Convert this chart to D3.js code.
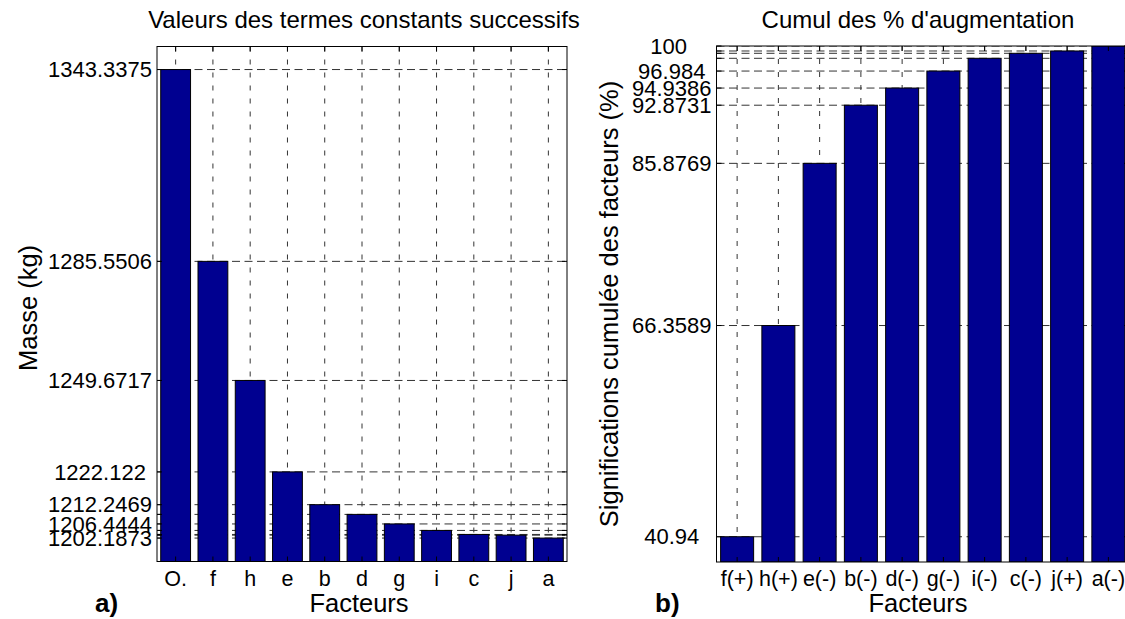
<!DOCTYPE html>
<html><head><meta charset="utf-8">
<script src="https://cdn.jsdelivr.net/npm/d3@7"></script>
<style>body{margin:0;background:#fff} text{font-family:"Liberation Sans",Arial,sans-serif;fill:#000}</style>
</head><body><svg id="c" width="1125" height="619"></svg>
<script>
// Panel a) data
const catsA = ["O.","f","h","e","b","d","g","i","c","j","a"];
const valsA = [1343.3375,1285.5506,1249.6717,1222.122,1212.2469,1209.32,1206.4444,1204.49,1203.28,1203.07,1202.1873];
const tickLabelsA = ["1343.3375","1285.5506","1249.6717","1222.122","1212.2469","1206.4444","1202.1873"];
// Panel b) data
const catsB = ["f(+)","h(+)","e(-)","b(-)","d(-)","g(-)","i(-)","c(-)","j(+)","a(-)"];
const valsB = [40.94,66.3589,85.8769,92.8731,94.9386,96.984,98.52,99.12,99.40,100];
const tickLabelsB = ["40.94","66.3589","85.8769","92.8731","94.9386","96.984","100"];

const svg = d3.select("#c");
const TICK_FS = 22, XTICK_FS = 21.5, TITLE_FS = 24, LAB_FS = 25.5;

function panel(o){
  const g = svg.append("g");
  const x = d3.scaleBand().domain(o.cats).range([o.x0,o.x1]).paddingInner(0.2).paddingOuter(0.1);
  const y = d3.scaleLinear().domain(o.ydom).range([o.y1,o.y0]);
  const clipId = "clip"+o.id;
  svg.append("clipPath").attr("id",clipId).append("rect")
    .attr("x",o.x0).attr("y",o.y0).attr("width",o.x1-o.x0).attr("height",o.y1-o.y0);
  const inner = g.append("g").attr("clip-path",`url(#${clipId})`);
  // grid
  inner.selectAll(".hg").data(o.vals).enter().append("line")
    .attr("x1",o.x0).attr("x2",o.x1).attr("y1",d=>y(d)).attr("y2",d=>y(d))
    .attr("stroke","#333").attr("stroke-width",1).attr("stroke-dasharray","8,4.5");
  inner.selectAll(".vg").data(o.cats).enter().append("line")
    .attr("x1",d=>x(d)+x.bandwidth()/2).attr("x2",d=>x(d)+x.bandwidth()/2)
    .attr("y1",o.y0).attr("y2",o.y1)
    .attr("stroke","#333").attr("stroke-width",1).attr("stroke-dasharray","5,8");
  // bars
  inner.selectAll(".bar").data(o.cats).enter().append("rect")
    .attr("x",d=>x(d)).attr("width",x.bandwidth())
    .attr("y",(d,i)=>y(o.vals[i])).attr("height",(d,i)=>o.y1-y(o.vals[i]))
    .attr("fill","#000090").attr("stroke","#000").attr("stroke-width",1);
  // ticks
  const tk = g.append("g").attr("stroke","#000").attr("stroke-width",1);
  o.vals.forEach(v=>{
    tk.append("line").attr("x1",o.x0).attr("x2",o.x0+5).attr("y1",y(v)).attr("y2",y(v));
    tk.append("line").attr("x1",o.x1-5).attr("x2",o.x1).attr("y1",y(v)).attr("y2",y(v));
  });
  o.cats.forEach(c=>{
    const cx = x(c)+x.bandwidth()/2;
    tk.append("line").attr("x1",cx).attr("x2",cx).attr("y1",o.y1).attr("y2",o.y1-5);
    tk.append("line").attr("x1",cx).attr("x2",cx).attr("y1",o.y0).attr("y2",o.y0+5);
  });
  // box
  g.append("rect").attr("x",o.x0).attr("y",o.y0).attr("width",o.x1-o.x0).attr("height",o.y1-o.y0)
    .attr("fill","none").attr("stroke","#000").attr("stroke-width",1);
  // y tick labels (padded like a char matrix)
  const maxLen = d3.max(o.tickLabels,s=>s.length);
  g.selectAll(".yl").data(o.tickLabels).enter().append("text")
    .attr("x",o.x0-5).attr("y",d=>y(+d)).attr("dy","0.35em")
    .attr("text-anchor","end").style("white-space","pre")
    .attr("font-size",TICK_FS).text(d=>d.padEnd(maxLen," "));
  // x tick labels
  g.selectAll(".xl").data(o.cats).enter().append("text")
    .attr("x",d=>x(d)+x.bandwidth()/2).attr("y",o.y1+24)
    .attr("text-anchor","middle").attr("font-size",XTICK_FS).text(d=>d);
  // title
  g.append("text").attr("x",o.titleX).attr("y",28).attr("text-anchor","middle")
    .attr("font-size",TITLE_FS).text(o.title);
  // x label
  g.append("text").attr("x",o.xlabX).attr("y",612).attr("text-anchor","middle")
    .attr("font-size",LAB_FS).text("Facteurs");
  // y label
  g.append("text").attr("transform",`translate(${o.ylabX},${o.ylabY}) rotate(-90)`)
    .attr("text-anchor","middle").attr("font-size",LAB_FS).text(o.ylab);
  // panel letter
  g.append("text").attr("x",o.letterX).attr("y",612).attr("font-size",26)
    .attr("font-weight","bold").text(o.letter);
}

panel({id:"a",cats:catsA,vals:valsA,tickLabels:tickLabelsA,x0:157,x1:567,y0:46.5,y1:561.5,
  ydom:[1195.13,1350.28],title:"Valeurs des termes constants successifs",titleX:364,xlabX:359,
  ylab:"Masse (kg)",ylabX:37,ylabY:308,letter:"a)",letterX:95});
panel({id:"b",cats:catsB,vals:valsB,tickLabels:tickLabelsB,x0:716.5,x1:1129,y0:46,y1:562,
  ydom:[37.9,100],title:"Cumul des % d'augmentation",titleX:918,xlabX:918,
  ylab:"Significations cumulée des facteurs (%)",ylabX:618,ylabY:304,letter:"b)",letterX:655});
</script></body></html>
